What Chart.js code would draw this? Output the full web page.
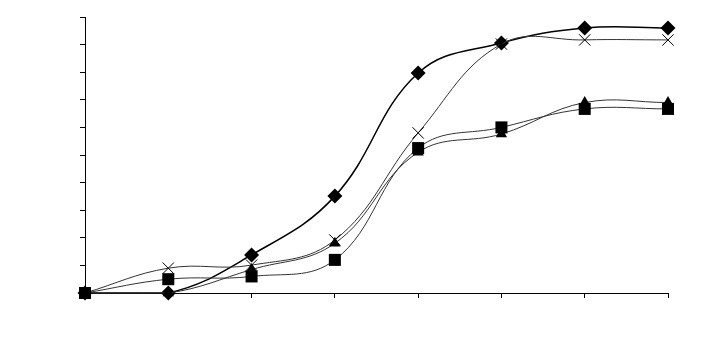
<!DOCTYPE html>
<html>
<head>
<meta charset="utf-8">
<script src="https://cdn.jsdelivr.net/npm/chart.js@4/dist/chart.umd.min.js"></script>
<style>
  html, body { margin: 0; padding: 0; background: #fff; }
  #wrap { width: 708px; height: 354px; }
</style>
</head>
<body>
<div id="wrap"><canvas id="chart" width="708" height="354"></canvas></div>
<script>
// ======================================
// Data
// ======================================
const categories = ["1", "2", "3", "4", "5", "6", "7", "8"];

const diamondValues  = [0, 0, 13.8, 35.1, 79.7, 90.6, 96, 96];
const crossValues    = [0, 9, 10.1, 19.2, 58, 90.2, 91.7, 91.7];
const triangleValues = [0, 0, 8.5, 18, 51, 57.6, 69, 69];
const squareValues   = [0, 5, 6, 12, 52.5, 60, 66.7, 66.7];

const yTicks = { min: 0, max: 100, step: 10 };

// ======================================
// Chart
// ======================================
function series(label, data, style, radius, width, color) {
    return {
        label: label,
        data: data,
        borderColor: color,
        borderWidth: width,
        backgroundColor: "#000",
        pointBackgroundColor: "#000",
        pointBorderColor: "#000",
        pointBorderWidth: style === "crossRot" ? 1 : 0,
        pointStyle: style,
        pointRadius: radius,
        tension: 0.4,
        clip: false,
        fill: false
    };
}

const ctx = document.getElementById("chart").getContext("2d");

new Chart(ctx, {
    type: "line",
    data: {
        labels: categories,
        datasets: [
            series("Series 4", squareValues, "rect", 8.5, 1, "#333"),
            series("Series 3", triangleValues, "triangle", 6.5, 1, "#333"),
            series("Series 2", crossValues, "crossRot", 8, 1, "#333"),
            series("Series 1", diamondValues, "rectRot", 7.5, 1.5, "#000")
        ]
    },
    options: {
        responsive: false,
        animation: false,
        layout: { padding: { left: 80, right: 40, top: 17, bottom: 56 } },
        plugins: {
            legend: { display: false },
            tooltip: { enabled: false }
        },
        scales: {
            x: {
                offset: false,
                grid: { drawOnChartArea: false, drawTicks: true, tickLength: 5, color: "#000" },
                border: { color: "#000", width: 1 },
                ticks: { display: false }
            },
            y: {
                min: yTicks.min,
                max: yTicks.max,
                grid: { drawOnChartArea: false, drawTicks: true, tickLength: 5, color: "#000" },
                border: { color: "#000", width: 1 },
                ticks: { display: false, stepSize: yTicks.step }
            }
        }
    }
});
</script>
</body>
</html>
